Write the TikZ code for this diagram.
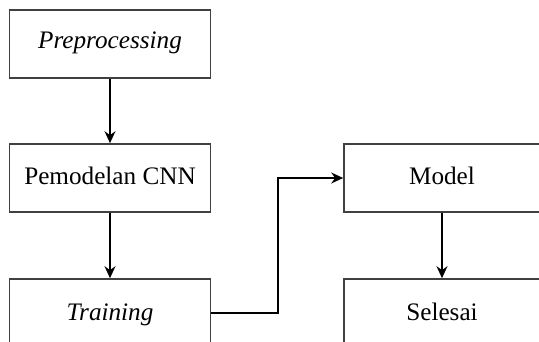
\documentclass[tikz,border=0pt]{standalone}
\usepackage{fontspec}
\setmainfont{Liberation Serif}
\usetikzlibrary{arrows.meta}
\begin{document}
\begin{tikzpicture}[x=1pt,y=-1pt,
  box/.style={draw=black!75,line width=1.6pt,minimum width=201pt,minimum height=68pt,inner sep=0pt,text height=18pt,text depth=4pt,font=\fontsize{25.2}{28}\selectfont,fill=white},
  conn/.style={draw=black,line width=1.6pt,-{Stealth[length=12pt,width=11pt]}}]
\clip (0,0) rectangle (539,342);
\fill[white] (0,0) rectangle (539,342);
\node[box,text height=16pt,text depth=6pt] (pre) at (110,44) {\textit{Preprocessing}};
\node[box] (cnn) at (110,178) {Pemodelan CNN};
\node[box] (tr) at (110,313) {\textit{Training}};
\node[box,minimum width=196pt] (mod) at (442,178) {Model};
\node[box,minimum width=196pt] (sel) at (442,313) {Selesai};
\coordinate (k) at (278,0);
\draw[conn] (pre) -- (cnn);
\draw[conn] (cnn) -- (tr);
\draw[conn] (tr.east) -| (k |- mod) -- (mod.west);
\draw[conn] (mod) -- (sel);
\end{tikzpicture}
\end{document}
